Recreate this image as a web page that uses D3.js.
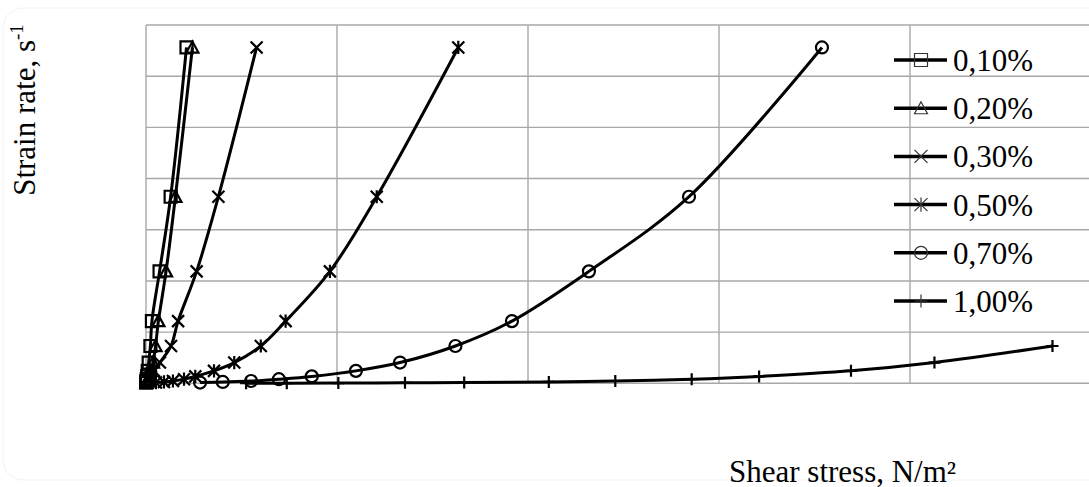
<!DOCTYPE html>
<html>
<head>
<meta charset="utf-8">
<script src="https://cdn.jsdelivr.net/npm/d3@7/dist/d3.min.js"></script>
<style>
  html, body { margin: 0; padding: 0; background: #fff; }
  svg { display: block; }
  text { font-family: "Liberation Serif", "Times New Roman", serif; fill: #000; }
</style>
</head>
<body>
<svg id="chart" width="1089" height="487"></svg>
<script>
// Concentration labels of the six suspensions
const categories = ["0,10%", "0,20%", "0,30%", "0,50%", "0,70%", "1,00%"];

// Shear rates of the viscometer steps, s^-1 (highest first)
const strainRates = [656.1, 364.5, 218.7, 121.5, 72.9, 40.5, 24.3, 13.5, 8.1, 4.5, 2.7, 1.5, 0.9, 0.5, 0.3, 0.167];

// Measured shear stress, N/m^2, one value per shear rate step
const stress010 = [21.2, 12.9, 7.1, 3.1, 2.3, 1.4, 0.9, 0.6, 0.4, 0.3, 0.2, 0.1];
const stress020 = [24.3, 15.4, 10.5, 6.5, 5.0, 3.7, 2.6, 1.8, 1.3, 0.8, 0.5, 0.3];
const stress030 = [57.9, 37.9, 26.5, 16.8, 13.1, 7.3, 4.2, 2.6, 1.8, 1.0];
const stress050 = [163.5, 120.8, 96.3, 73.1, 60.1, 46.2, 35.6, 25.8, 19.9, 14.1, 9.4, 5.2];
const stress070 = [353.9, 284.3, 231.9, 191.6, 162.0, 133.0, 109.9, 86.8, 69.6, 55.0, 40.2, 28.3];
const stress100 = [474.6, 412.8, 369.1, 321.0, 285.7, 245.7, 210.9, 166.6, 135.6, 100.7, 73.7, 52.4];

// Index of the first shear rate step for each series
const rateStart = [0, 0, 0, 0, 0, 4];
const markerTypes = ["square", "triangle", "times", "asterisk", "circle", "plus"];

// Axis titles
const xTitle = "Shear stress, N/m\u00B2";
const yTitle = "Strain rate, s";
const yTitleSup = "-1";

const allStress = [stress010, stress020, stress030, stress050, stress070, stress100];
const series = categories.map((name, i) => ({
  name,
  marker: markerTypes[i],
  points: allStress[i].map((s, k) => ({ x: s, y: strainRates[rateStart[i] + k] }))
}));

const svg = d3.select("#chart");

// faint rounded frame around the figure
svg.append("rect")
  .attr("x", 3).attr("y", 8).attr("width", 1200).attr("height", 472)
  .attr("rx", 20).attr("fill", "none").attr("stroke", "#f1f1f1").attr("stroke-width", 1);

const x = d3.scaleLinear().domain([0, 500]).range([146, 1101]);
const y = d3.scaleLinear().domain([0, 700]).range([383.3, 25]);

// grid
const grid = svg.append("g").attr("stroke", "#a8a8a8").attr("stroke-width", 1.4);
grid.selectAll("line.v").data(x.ticks(5)).join("line")
  .attr("x1", d => x(d)).attr("x2", d => x(d))
  .attr("y1", y(0)).attr("y2", y(700));
grid.selectAll("line.h").data(y.ticks(7)).join("line")
  .attr("x1", x(0)).attr("x2", x(500))
  .attr("y1", d => y(d)).attr("y2", d => y(d));

function markerPath(type, h) {
  switch (type) {
    case "square":
      return `M${-h},${-h}H${h}V${h}H${-h}Z`;
    case "triangle":
      return `M0,${-h}L${h},${h * 0.85}L${-h},${h * 0.85}Z`;
    case "times":
      return `M${-h},${-h}L${h},${h}M${-h},${h}L${h},${-h}`;
    case "asterisk":
      return `M${-h},${-h}L${h},${h}M${-h},${h}L${h},${-h}M0,${-h * 1.1}V${h * 1.1}`;
    case "circle":
      return `M${h},0A${h},${h} 0 1,1 ${-h},0A${h},${h} 0 1,1 ${h},0Z`;
    case "plus":
      return `M0,${-h}V${h}M${-h},0H${h}`;
  }
}

const line = d3.line()
  .x(d => x(d.x))
  .y(d => y(d.y))
  .curve(d3.curveCatmullRom.alpha(0.5));

const plot = svg.append("g");
series.forEach(s => {
  plot.append("path")
    .datum(s.points)
    .attr("d", line)
    .attr("fill", "none")
    .attr("stroke", "#000")
    .attr("stroke-width", 3)
    .attr("stroke-linejoin", "round");
});
series.forEach(s => {
  plot.append("g").selectAll("path").data(s.points).join("path")
    .attr("transform", d => `translate(${x(d.x)},${y(d.y)})`)
    .attr("d", markerPath(s.marker, 6))
    .attr("fill", "none")
    .attr("stroke", "#000")
    .attr("stroke-width", 2.2);
});

// legend
const legend = svg.append("g");
series.forEach((s, i) => {
  const ly = 60 + i * 48.2;
  const row = legend.append("g").attr("transform", `translate(0,${ly})`);
  row.append("line").attr("x1", 894).attr("x2", 947).attr("y1", 0).attr("y2", 0)
    .attr("stroke", "#000").attr("stroke-width", 3.5);
  row.append("path").attr("transform", "translate(921,0)")
    .attr("d", markerPath(s.marker, 6.5))
    .attr("fill", "none").attr("stroke", "#333").attr("stroke-width", 1.2);
  row.append("text").attr("x", 953).attr("y", 11)
    .attr("font-size", 31).text(s.name);
});

// axis titles
svg.append("text")
  .attr("x", 729).attr("y", 481.5)
  .attr("font-size", 31)
  .text(xTitle);

const yt = svg.append("text")
  .attr("transform", "translate(35,110) rotate(-90)")
  .attr("text-anchor", "middle")
  .attr("font-size", 31);
yt.append("tspan").text(yTitle);
yt.append("tspan").attr("font-size", 19).attr("dy", -12).text(yTitleSup);
</script>
</body>
</html>
